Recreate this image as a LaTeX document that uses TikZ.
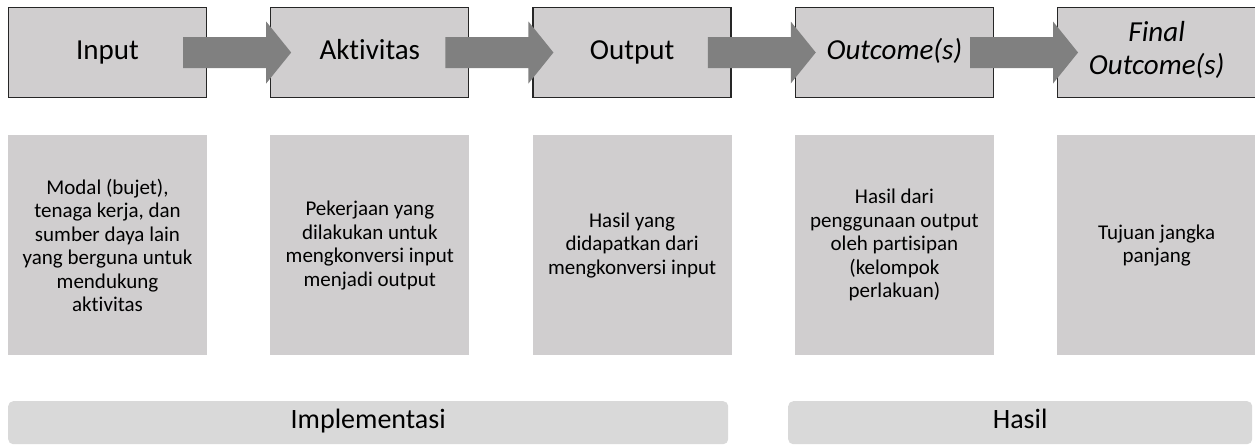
\documentclass[tikz,border=0pt]{standalone}
\usepackage{fontspec}
\setmainfont{Carlito}[Ligatures=NoCommon]
\usetikzlibrary{positioning}
\definecolor{boxgray}{RGB}{208,206,207}
\definecolor{bargray}{RGB}{217,217,217}
\definecolor{flowgray}{RGB}{128,128,128}
\definecolor{edgegray}{RGB}{38,38,38}
\tikzset{
  stage/.style={draw=edgegray, line width=1.3pt, fill=boxgray, minimum width=198pt,
    minimum height=90pt, align=center, font=\fontsize{29}{33}\selectfont,
    execute at begin node=\strut},
  desc/.style={fill=boxgray, minimum width=199pt, minimum height=220pt, align=center,
    font=\fontsize{21}{23.5}\selectfont},
  phase/.style={fill=bargray, rounded corners=5pt, minimum height=43pt,
    font=\fontsize{28}{30}\selectfont, execute at begin node=\strut},
}

\begin{document}
\begin{tikzpicture}[x=1pt,y=-1pt]
  \useasboundingbox (0,0) rectangle (1255,445);
  % top row
  \node[stage] (in) at (107.5,52.5) {Input};
  \node[stage, right=63pt of in] (act) {Aktivitas};
  \node[stage, right=63pt of act] (out) {Output};
  \node[stage, right=63pt of out] (oc) {\itshape Outcome(s)};
  \node[stage, right=63pt of oc] (foc) {\itshape Final\\ \itshape Outcome(s)};
  % descriptions
  \node[desc, below=37pt of in] (in-d) {Modal (bujet),\\ tenaga kerja, dan\\ sumber daya lain\\ yang berguna untuk\\ mendukung\\ aktivitas};
  \node[desc, below=37pt of act] (act-d) {Pekerjaan yang\\ dilakukan untuk\\ mengkonversi input\\ menjadi output};
  \node[desc, below=37pt of out] (out-d) {Hasil yang\\ didapatkan dari\\ mengkonversi input};
  \node[desc, below=37pt of oc] (oc-d) {Hasil dari\\ penggunaan output\\ oleh partisipan\\ (kelompok\\ perlakuan)};
  \node[desc, below=37pt of foc] (foc-d) {Tujuan jangka\\ panjang};
  % arrows between stages
  \foreach \a/\b in {in/act, act/out, out/oc, oc/foc}
    \fill[flowgray] ([shift={(-24pt,15.5pt)}]\a.east) -- ([shift={(-4pt,15.5pt)}]\b.west)
      -- ([shift={(-4pt,31pt)}]\b.west) -- ([xshift=21pt]\b.west)
      -- ([shift={(-4pt,-31pt)}]\b.west) -- ([shift={(-4pt,-15.5pt)}]\b.west)
      -- ([shift={(-24pt,-15.5pt)}]\a.east) -- cycle;
  % phases
  \node[phase, minimum width=720pt, anchor=north west] (impl) at (8,401) {Implementasi};
  \node[phase, minimum width=464pt, anchor=north west] (hasil) at (788,401) {Hasil};
\end{tikzpicture}
\end{document}
